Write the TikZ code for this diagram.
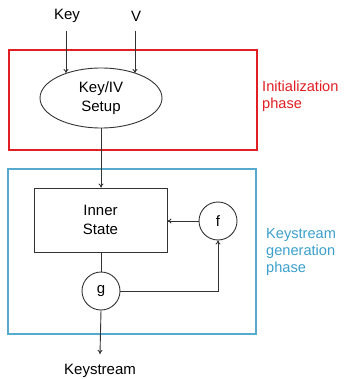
\documentclass[tikz,border=0pt]{standalone}
\usepackage{fontspec}
\setmainfont{Liberation Sans}
\usetikzlibrary{shapes.geometric,arrows.meta}
\definecolor{initred}{RGB}{225,30,35}
\definecolor{genblue}{RGB}{60,160,205}
\definecolor{boxblue}{RGB}{85,170,205}
\begin{document}
\begin{tikzpicture}[x=1pt,y=-1pt,
  every node/.style={font=\fontsize{15}{18.5}\selectfont, align=center, inner sep=0pt},
  ln/.style={draw=black!80, line width=0.9pt},
  arr/.style={ln, -{To[length=4pt,width=5pt]}},
  circ/.style={circle, draw=black!80, line width=0.9pt, minimum size=38pt},
  lab/.style={font=\fontsize{14.6}{17}\selectfont, align=left, anchor=west}]
\useasboundingbox (0,0) rectangle (348,379);
\fill[white] (0,0) rectangle (348,379);
% phase boxes
\node[draw=initred, line width=1.1pt, minimum width=248pt, minimum height=100pt] (init) at (133,100) {};
\node[draw=boxblue, line width=1.1pt, minimum width=248pt, minimum height=165pt] (gen) at (132,251.5) {};
\node[lab, text=initred] (initlab) at (262,96.5) {Initialization\\phase};
\node[lab, text=genblue] (genlab) at (266,252) {Keystream\\generation\\phase};
% nodes
\node (key) at (67,16) {Key};
\node (v) at (136,16) {V};
\node[ellipse, draw=black!80, line width=0.9pt, minimum width=122pt, minimum height=60pt] (setup) at (101,98) {Key/IV\\Setup};
\node[draw=black!80, line width=0.9pt, minimum width=133pt, minimum height=64pt] (state) at (100.5,220) {Inner\\State};
\node[circ] (f) at (218,221) {f};
\node[circ] (g) at (101,291) {g};
\node (ks) at (100,371) {Keystream};
\coordinate (ksend) at (100,354);
\coordinate (keytop) at (66,31);
\coordinate (vtop) at (135,31);
% connectors
\draw[arr] (keytop) -- (keytop |- 0,73);
\draw[arr] (vtop) -- (vtop |- 0,73);
\draw[arr] (setup.south) -- (setup.south |- state.north);
\draw[ln] (state.south -| g.north) -- (g.north);
\draw[arr] (f.west) -- (f.west -| state.east);
\draw[arr] (g.east) -| (f.south);
\draw[arr] (g.south) -- (ksend);
\end{tikzpicture}
\end{document}
